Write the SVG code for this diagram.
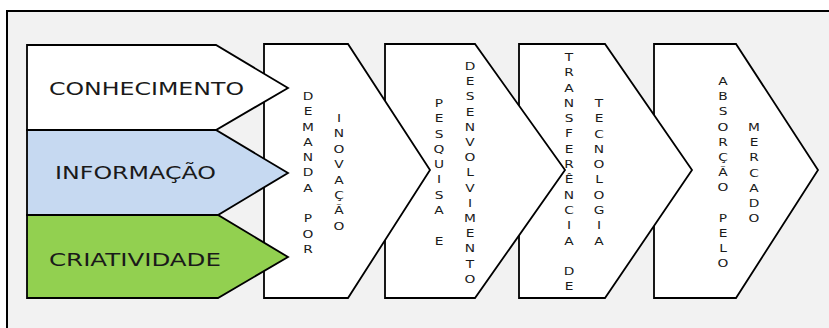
<svg xmlns="http://www.w3.org/2000/svg" width="829" height="328" viewBox="0 0 829 328">
<style>
.shape{stroke:#000;stroke-width:1.8;stroke-linejoin:miter}
.chev{fill:#fff}
.lbl{font-family:"DejaVu Sans",Verdana,sans-serif;font-size:17px;fill:#1a1a1a}
.vt{font-family:"DejaVu Sans",Verdana,sans-serif;font-size:11px;fill:#1a1a1a;text-anchor:middle}
</style>
<rect x="0" y="0" width="829" height="328" fill="#fff"/>
<rect x="7" y="11" width="840" height="340" fill="#f2f2f2" stroke="#000" stroke-width="2"/>
<g id="connectors"/>
<g id="mercado">
<polygon class="shape chev" points="654,44 736,44 818,170 736,298 654,298"/>
<text class="vt" transform="translate(723 0) scale(1.25 1)"><tspan x="0" y="85">A</tspan><tspan x="0" dy="15.2">B</tspan><tspan x="0" dy="15.2">S</tspan><tspan x="0" dy="15.2">O</tspan><tspan x="0" dy="15.2">R</tspan><tspan x="0" dy="15.2">Ç</tspan><tspan x="0" dy="15.2">Ã</tspan><tspan x="0" dy="15.2">O</tspan><tspan x="0" dy="30.4">P</tspan><tspan x="0" dy="15.2">E</tspan><tspan x="0" dy="15.2">L</tspan><tspan x="0" dy="15.2">O</tspan></text>
<text class="vt" transform="translate(754 0) scale(1.25 1)"><tspan x="0" y="131">M</tspan><tspan x="0" dy="15.2">E</tspan><tspan x="0" dy="15.2">R</tspan><tspan x="0" dy="15.2">C</tspan><tspan x="0" dy="15.2">A</tspan><tspan x="0" dy="15.2">D</tspan><tspan x="0" dy="15.2">O</tspan></text>
</g>
<g id="transferencia">
<polygon class="shape chev" points="519,44 605,44 692,170 605,298 519,298"/>
<text class="vt" transform="translate(569 0) scale(1.25 1)"><tspan x="0" y="61">T</tspan><tspan x="0" dy="15.3">R</tspan><tspan x="0" dy="15.3">A</tspan><tspan x="0" dy="15.3">N</tspan><tspan x="0" dy="15.3">S</tspan><tspan x="0" dy="15.3">F</tspan><tspan x="0" dy="15.3">E</tspan><tspan x="0" dy="15.3">R</tspan><tspan x="0" dy="15.3">Ê</tspan><tspan x="0" dy="15.3">N</tspan><tspan x="0" dy="15.3">C</tspan><tspan x="0" dy="15.3">I</tspan><tspan x="0" dy="15.3">A</tspan><tspan x="0" dy="30.6">D</tspan><tspan x="0" dy="15.3">E</tspan></text>
<text class="vt" transform="translate(599 0) scale(1.25 1)"><tspan x="0" y="107">T</tspan><tspan x="0" dy="15.3">E</tspan><tspan x="0" dy="15.3">C</tspan><tspan x="0" dy="15.3">N</tspan><tspan x="0" dy="15.3">O</tspan><tspan x="0" dy="15.3">L</tspan><tspan x="0" dy="15.3">O</tspan><tspan x="0" dy="15.3">G</tspan><tspan x="0" dy="15.3">I</tspan><tspan x="0" dy="15.3">A</tspan></text>
</g>
<g id="pesquisa">
<polygon class="shape chev" points="385,44 475,44 565,170 475,298 385,298"/>
<text class="vt" transform="translate(439 0) scale(1.25 1)"><tspan x="0" y="107">P</tspan><tspan x="0" dy="15.3">E</tspan><tspan x="0" dy="15.3">S</tspan><tspan x="0" dy="15.3">Q</tspan><tspan x="0" dy="15.3">U</tspan><tspan x="0" dy="15.3">I</tspan><tspan x="0" dy="15.3">S</tspan><tspan x="0" dy="15.3">A</tspan><tspan x="0" dy="30.6">E</tspan></text>
<text class="vt" transform="translate(470 0) scale(1.25 1)"><tspan x="0" y="70">D</tspan><tspan x="0" dy="15.2">E</tspan><tspan x="0" dy="15.2">S</tspan><tspan x="0" dy="15.2">E</tspan><tspan x="0" dy="15.2">N</tspan><tspan x="0" dy="15.2">V</tspan><tspan x="0" dy="15.2">O</tspan><tspan x="0" dy="15.2">L</tspan><tspan x="0" dy="15.2">V</tspan><tspan x="0" dy="15.2">I</tspan><tspan x="0" dy="15.2">M</tspan><tspan x="0" dy="15.2">E</tspan><tspan x="0" dy="15.2">N</tspan><tspan x="0" dy="15.2">T</tspan><tspan x="0" dy="15.2">O</tspan></text>
</g>
<g id="demanda">
<polygon class="shape chev" points="264,44 348,44 430,170 348,298 264,298"/>
<text class="vt" transform="translate(308 0) scale(1.25 1)"><tspan x="0" y="100">D</tspan><tspan x="0" dy="15.3">E</tspan><tspan x="0" dy="15.3">M</tspan><tspan x="0" dy="15.3">A</tspan><tspan x="0" dy="15.3">N</tspan><tspan x="0" dy="15.3">D</tspan><tspan x="0" dy="15.3">A</tspan><tspan x="0" dy="30.6">P</tspan><tspan x="0" dy="15.3">O</tspan><tspan x="0" dy="15.3">R</tspan></text>
<text class="vt" transform="translate(339 0) scale(1.25 1)"><tspan x="0" y="122">I</tspan><tspan x="0" dy="15.4">N</tspan><tspan x="0" dy="15.4">O</tspan><tspan x="0" dy="15.4">V</tspan><tspan x="0" dy="15.4">A</tspan><tspan x="0" dy="15.4">Ç</tspan><tspan x="0" dy="15.4">Ã</tspan><tspan x="0" dy="15.4">O</tspan></text>
</g>
<g id="conhecimento">
<polygon class="shape" fill="#fff" points="27,45 216,45 288,88 216,130 27,130"/>
<text class="lbl" x="49" y="94.5" textLength="195" lengthAdjust="spacingAndGlyphs">CONHECIMENTO</text>
</g>
<g id="informacao">
<polygon class="shape" fill="#c6d9f1" points="27,130 216,130 288,173 218,215 27,215"/>
<text class="lbl" x="55" y="178.5" textLength="161" lengthAdjust="spacingAndGlyphs">INFORMAÇÃO</text>
</g>
<g id="criatividade">
<polygon class="shape" fill="#92d050" points="27,215 218,215 288,257 218,298 27,298"/>
<text class="lbl" x="49" y="265.5" textLength="172" lengthAdjust="spacingAndGlyphs">CRIATIVIDADE</text>
</g>
</svg>
